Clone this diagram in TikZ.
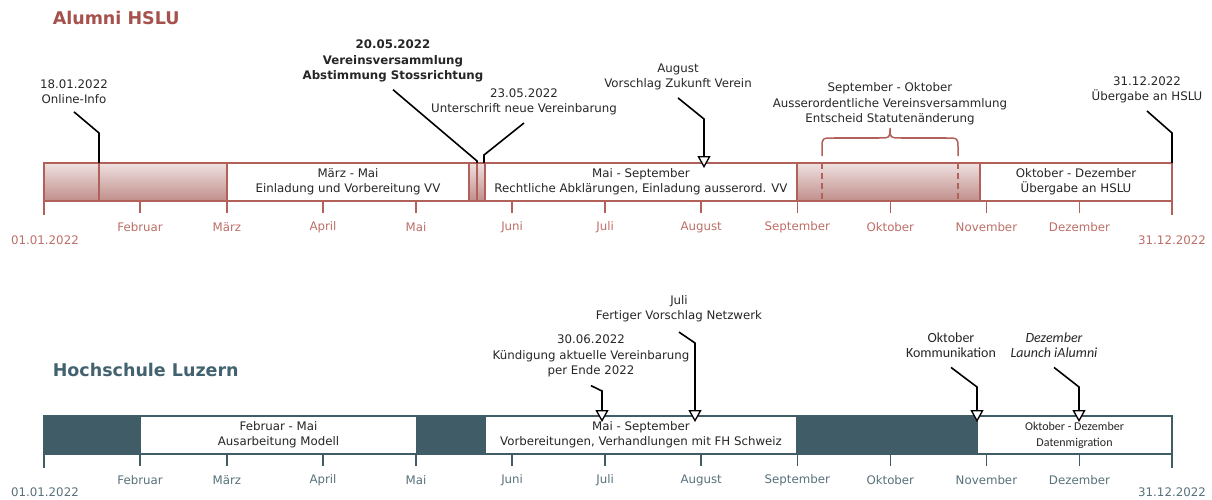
\documentclass[tikz,border=0pt]{standalone}
\usepackage{fontspec}
\setmainfont{DejaVu Sans}
\newfontfamily\carlito{Carlito}
\usetikzlibrary{arrows.meta}
\definecolor{almRed}{RGB}{165,82,76}
\definecolor{almLine}{RGB}{178,96,90}
\definecolor{almMonth}{RGB}{188,110,103}
\definecolor{gradTop}{RGB}{238,225,224}
\definecolor{gradBot}{RGB}{192,142,139}
\definecolor{hsDark}{RGB}{64,92,103}
\definecolor{hsTitle}{RGB}{66,98,112}
\definecolor{hsMonth}{RGB}{88,112,122}
\definecolor{txtGrey}{RGB}{38,38,38}

\begin{document}
\begin{tikzpicture}[x=1pt,y=-1pt,line width=1.5pt,>=Stealth]
\tikzset{
  txt/.style={align=center,inner sep=0pt,text=txtGrey,font=\fontsize{11.8}{15.3}\selectfont},
  txtb/.style={txt,font=\fontsize{11.8}{15.3}\selectfont\bfseries},
  txtc/.style={txt,font=\carlito\fontsize{14}{15.5}\selectfont},
  title/.style={anchor=west,inner sep=0pt,font=\fontsize{17.5}{20}\selectfont\bfseries},
  abox/.style={txt,draw=almLine,fill=white,minimum height=38pt},
  hbox/.style={txt,draw=hsDark,fill=white,minimum height=38pt},
  callout/.style={draw=black,line width=1.6pt},
  pointer/.style={callout,-{Triangle[length=12pt,width=13pt,fill=white,line width=1.3pt]}}
}
\useasboundingbox (0,0) rectangle (1212,500);
\def\X#1{44+3.1*#1}
% ---- top: Alumni HSLU ----
\node[title,text=almRed] (almtitle) at (52,18) {Alumni HSLU};
\shade[top color=gradTop,bottom color=gradBot] (44,163) rectangle (227,201);
\shade[top color=gradTop,bottom color=gradBot] (469,163) rectangle (485,201);
\shade[top color=gradTop,bottom color=gradBot] (797,163) rectangle (980,201);
\node[abox,minimum width=242pt] (vvbox) at (348,182) {März - Mai\\Einladung und Vorbereitung VV};
\node[abox,minimum width=312pt] (rabox) at (641,182) {Mai - September\\Rechtliche Abklärungen, Einladung ausserord. VV};
\node[abox,minimum width=192pt] (ubbox) at (1076,182) {Oktober - Dezember\\Übergabe an HSLU};
\foreach \x in {99,477}{\draw[almLine] (\x,163) -- (\x,201);}
\foreach \x in {822,958}{\draw[almLine,dash pattern=on 6pt off 4pt] (\x,163) -- (\x,201);}
\draw[almLine] (44,163) rectangle (1172,201);
% brace over September - Oktober
\draw[almLine] (822,156) -- (822,148) .. controls (822,138) .. (834,138) -- (879,138)
  .. controls (890,138) .. (890,128) .. controls (890,138) .. (901,138) -- (946,138)
  .. controls (958,138) .. (958,148) -- (958,156);
% month ticks
\draw[almLine] (44,201) -- (44,215);
\draw[almLine] (1172,201) -- (1172,215);
\foreach \d/\m in {31/Februar,59/März,90/April,120/Mai,151/Juni,181/Juli,
  212/August,243/September,273/Oktober,304/November,334/Dezember}{
  \draw[almLine] ({\X{\d}},201) -- ({\X{\d}},213);
  \node[txt,text=almMonth] (am\d) at ({\X{\d}},227) {\m};
}
\node[txt,text=almMonth] (astart) at (45,240) {01.01.2022};
\node[txt,text=almMonth] (aend) at (1172,240) {31.12.2022};
% events
\coordinate (e1) at (99,163);
\coordinate (e2) at (477,163);
\coordinate (e3) at (484,163);
\coordinate (e4) at (704,163);
\coordinate (e5) at (1172,163);
\node[txt] (online) at (74,92) {18.01.2022\\Online-Info};
\node[txtb] (vv) at (393,61) {20.05.2022\\Vereinsversammlung\\Abstimmung Stossrichtung};
\node[txt] (unter) at (524,102) {23.05.2022\\Unterschrift neue Vereinbarung};
\node[txt] (aug) at (678,77) {August\\Vorschlag Zukunft Verein};
\node[txt] (sepokt) at (890,104) {September - Oktober\\Ausserordentliche Vereinsversammlung\\Entscheid Statutenänderung};
\node[txt] (ende) at (1147,90) {31.12.2022\\Übergabe an HSLU};
\draw[callout] ([yshift=-7pt]online.south) -- ([yshift=30pt]e1) -- (e1);
\draw[callout] ([yshift=-7pt]vv.south) -- ([yshift=2pt]e2) -- (e2);
\draw[callout] ([yshift=-7pt]unter.south) -- ([yshift=8pt]e3) -- (e3);
\draw[pointer] ([yshift=-7pt]aug.south) -- ([yshift=44pt]e4) -- ([yshift=-5pt]e4);
\draw[callout] ([yshift=-7pt]ende.south) -- ([yshift=30pt]e5) -- (e5);
% ---- bottom: Hochschule Luzern ----
\node[title,text=hsTitle] (hstitle) at (52,370) {Hochschule Luzern};
\fill[hsDark] (44,416) rectangle (1172,454);
\node[hbox,minimum width=277pt] (mobox) at (278.5,435) {Februar - Mai\\Ausarbeitung Modell};
\node[hbox,minimum width=312pt] (vhbox) at (641,435) {Mai - September\\Vorbereitungen, Verhandlungen mit FH Schweiz};
\node[hbox,minimum width=195pt,font=\carlito\fontsize{12}{16}\selectfont] (dmbox) at (1074.5,435) {Oktober - Dezember\\Datenmigration};
\draw[hsDark] (44,416) rectangle (1172,454);
% month ticks
\draw[hsDark] (44,454) -- (44,468);
\draw[hsDark] (1172,454) -- (1172,468);
\foreach \d/\m in {31/Februar,59/März,90/April,120/Mai,151/Juni,181/Juli,
  212/August,243/September,273/Oktober,304/November,334/Dezember}{
  \draw[hsDark] ({\X{\d}},454) -- ({\X{\d}},466);
  \node[txt,text=hsMonth] (hm\d) at ({\X{\d}},480) {\m};
}
\node[txt,text=hsMonth] (hstart) at (45,492) {01.01.2022};
\node[txt,text=hsMonth] (hend) at (1172,492) {31.12.2022};
% events
\coordinate (b1) at (602,416);
\coordinate (b2) at (695,416);
\coordinate (b3) at (977,416);
\coordinate (b4) at (1079,416);
\node[txt] (kuend) at (591,356) {30.06.2022\\Kündigung aktuelle Vereinbarung\\per Ende 2022};
\node[txt] (juli) at (679,309) {Juli\\Fertiger Vorschlag Netzwerk};
\node[txtc] (komm) at (951,345) {Oktober\\Kommunikation};
\node[txtc,font=\carlito\itshape\fontsize{14}{15.5}\selectfont] (launch) at (1054,345) {Dezember\\Launch iAlumni};
\draw[pointer] ([yshift=-8pt]kuend.south) -- ([yshift=25pt]b1) -- ([yshift=-6pt]b1);
\draw[pointer] ([yshift=-9pt]juli.south) -- ([yshift=73pt]b2) -- ([yshift=-6pt]b2);
\draw[pointer] ([yshift=-9pt]komm.south) -- ([yshift=29pt]b3) -- ([yshift=-6pt]b3);
\draw[pointer] ([yshift=-9pt]launch.south) -- ([yshift=29pt]b4) -- ([yshift=-6pt]b4);
\end{tikzpicture}
\end{document}
